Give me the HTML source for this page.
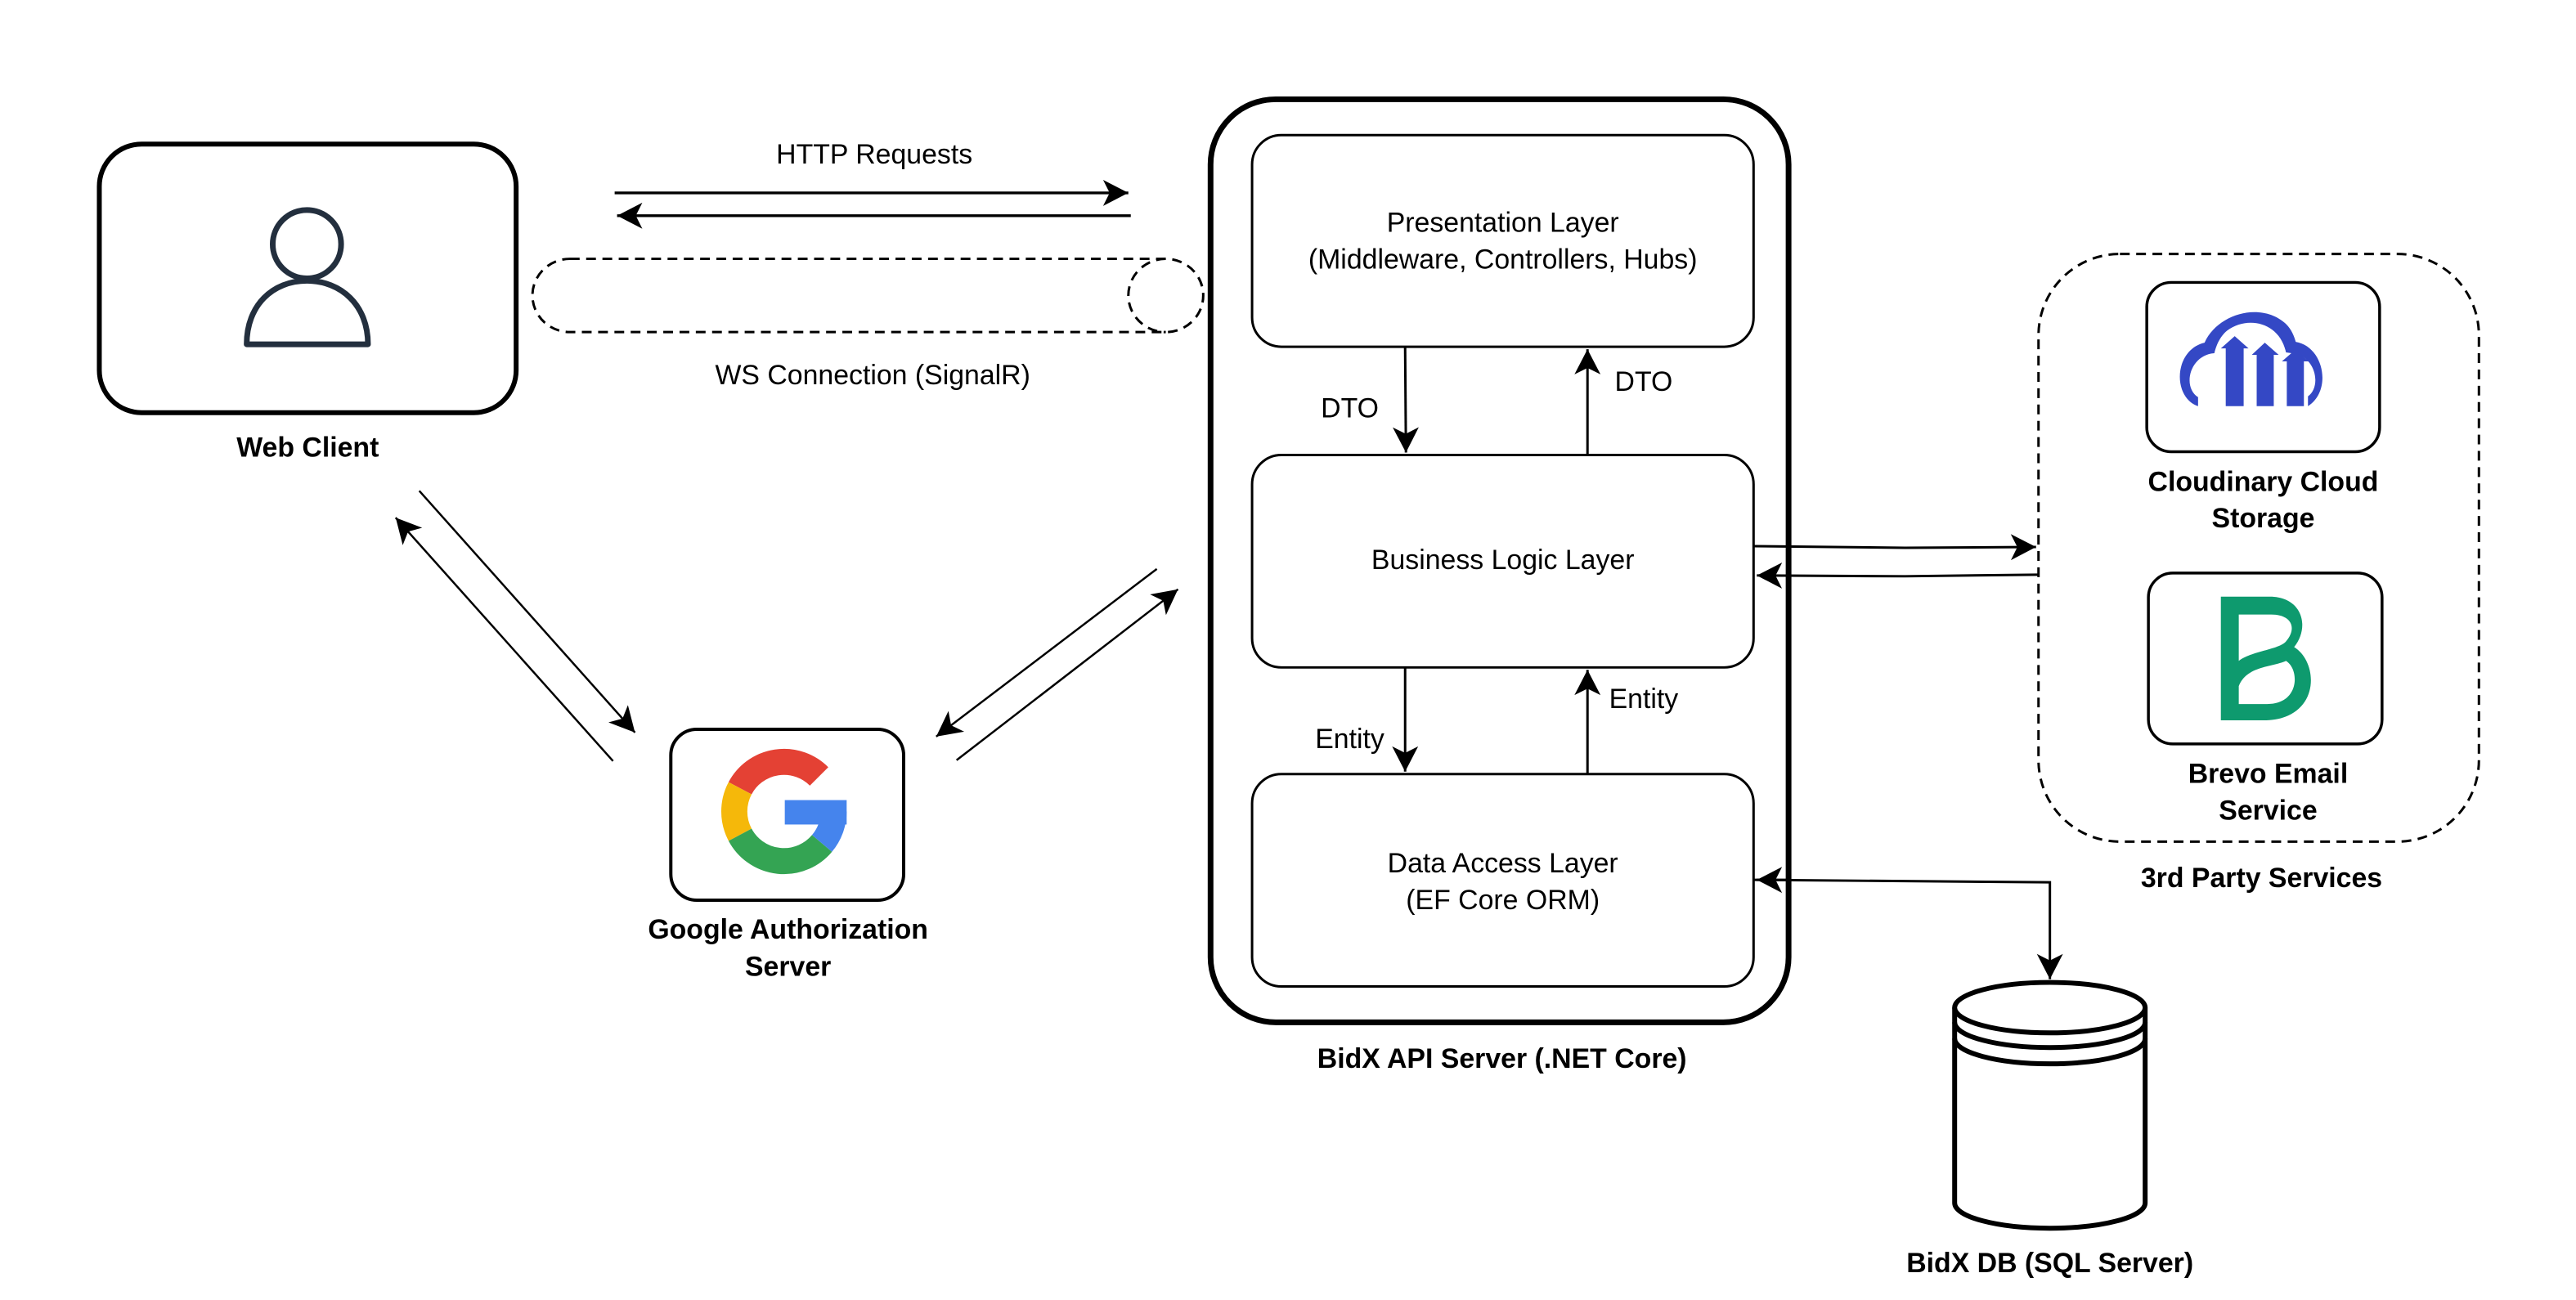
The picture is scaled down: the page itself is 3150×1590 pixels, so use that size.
<!DOCTYPE html>
<html><head><meta charset="utf-8"><style>
html,body{margin:0;padding:0;background:#fff}
svg{display:block}
text{font-family:"Liberation Sans",Arial,sans-serif;fill:#000}
.n{font-size:34px}
.b{font-size:34px;font-weight:bold}
</style></head><body>
<svg width="3150" height="1590" viewBox="0 0 3150 1590" xmlns="http://www.w3.org/2000/svg">
<defs>
<marker id="a" viewBox="0 0 10 10" refX="9" refY="5" markerWidth="10" markerHeight="10" markerUnits="userSpaceOnUse" orient="auto" overflow="visible">
<path d="M-22,-11 L9,5 L-22,21 L-14,5 Z" fill="#000"/>
</marker>
</defs>
<rect width="3150" height="1590" fill="#fff"/>
<g transform="scale(0.9955)">
<!-- Web client -->
<rect x="122" y="177" width="512" height="330" rx="52" fill="#fff" stroke="#000" stroke-width="6"/>
<circle cx="377" cy="300" r="42" fill="none" stroke="#232f3e" stroke-width="7"/>
<path d="M303,423 C303,375 335,345 377,345 C419,345 452,375 452,423 Z" fill="none" stroke="#232f3e" stroke-width="7" stroke-linejoin="round"/>
<text class="b" x="378" y="561" text-anchor="middle">Web Client</text>

<!-- HTTP -->
<text class="n" x="1074" y="201" text-anchor="middle">HTTP Requests</text>
<line x1="755" y1="237" x2="1386" y2="237" stroke="#000" stroke-width="3.5" marker-end="url(#a)"/>
<line x1="1389" y1="265" x2="758" y2="265" stroke="#000" stroke-width="3.5" marker-end="url(#a)"/>

<!-- WS cylinder -->
<path d="M700,318 L1432,318 A46,45 0 0 1 1432,408 L700,408 A46,45 0 0 1 700,318 Z" fill="none" stroke="#000" stroke-width="3" stroke-dasharray="12,8"/>
<path d="M1432,318 A46,45 0 0 0 1432,408" fill="none" stroke="#000" stroke-width="3" stroke-dasharray="12,8"/>
<text class="n" x="1072" y="472" text-anchor="middle">WS Connection (SignalR)</text>

<!-- diagonals left -->
<line x1="515" y1="603" x2="780" y2="900" stroke="#000" stroke-width="2.5" marker-end="url(#a)"/>
<line x1="753" y1="935" x2="486" y2="636" stroke="#000" stroke-width="2.5" marker-end="url(#a)"/>
<!-- diagonals right -->
<line x1="1421" y1="699" x2="1150" y2="905" stroke="#000" stroke-width="2.5" marker-end="url(#a)"/>
<line x1="1175" y1="934" x2="1447" y2="724" stroke="#000" stroke-width="2.5" marker-end="url(#a)"/>

<!-- Google -->
<rect x="824" y="896" width="286" height="210" rx="32" fill="#fff" stroke="#000" stroke-width="4"/>
<g fill="none" stroke-width="32">
<path d="M1006.1,953.9 A61,61 0 0 0 909.1,968.4" stroke="#e44134"/>
<path d="M909.1,968.4 A61,61 0 0 0 909.1,1025.6" stroke="#f5b80a"/>
<path d="M909.1,1025.6 A61,61 0 0 0 1009.7,1036.2" stroke="#34a453"/>
<path d="M1009.7,1036.2 A61,61 0 0 0 1024,997" stroke="#4584ed"/>
</g>
<rect x="964" y="983" width="76" height="30" fill="#4584ed"/>
<text class="b" x="968" y="1153" text-anchor="middle">Google Authorization</text>
<text class="b" x="968" y="1199" text-anchor="middle">Server</text>

<!-- API server -->
<rect x="1487" y="122" width="710" height="1134" rx="80" fill="none" stroke="#000" stroke-width="7"/>
<rect x="1538" y="166" width="616" height="260" rx="36" fill="#fff" stroke="#000" stroke-width="3"/>
<text class="n" x="1846" y="285" text-anchor="middle">Presentation Layer</text>
<text class="n" x="1846" y="330" text-anchor="middle">(Middleware, Controllers, Hubs)</text>
<rect x="1538" y="559" width="616" height="261" rx="36" fill="#fff" stroke="#000" stroke-width="3"/>
<text class="n" x="1846" y="699" text-anchor="middle">Business Logic Layer</text>
<rect x="1538" y="951" width="616" height="261" rx="36" fill="#fff" stroke="#000" stroke-width="3"/>
<text class="n" x="1846" y="1072" text-anchor="middle">Data Access Layer</text>
<text class="n" x="1846" y="1117" text-anchor="middle">(EF Core ORM)</text>
<text class="b" x="1845" y="1312" text-anchor="middle">BidX API Server (.NET Core)</text>

<line x1="1726" y1="427" x2="1727" y2="556" stroke="#000" stroke-width="3" marker-end="url(#a)"/>
<line x1="1950" y1="558" x2="1950" y2="429" stroke="#000" stroke-width="3" marker-end="url(#a)"/>
<text class="n" x="1658" y="513" text-anchor="middle">DTO</text>
<text class="n" x="2019" y="480" text-anchor="middle">DTO</text>
<line x1="1726" y1="821" x2="1726" y2="948" stroke="#000" stroke-width="3" marker-end="url(#a)"/>
<line x1="1950" y1="950" x2="1950" y2="823" stroke="#000" stroke-width="3" marker-end="url(#a)"/>
<text class="n" x="1658" y="919" text-anchor="middle">Entity</text>
<text class="n" x="2019" y="870" text-anchor="middle">Entity</text>

<!-- 3rd party -->
<rect x="2504" y="312" width="541" height="722" rx="100" fill="none" stroke="#000" stroke-width="3" stroke-dasharray="12,8"/>
<rect x="2637" y="347" width="286" height="208" rx="30" fill="#fff" stroke="#000" stroke-width="3.5"/>
<g fill="#3448c5">
<path d="M2700,499 C2668,488 2670,430 2708,421 C2724,385 2778,370 2808,398 C2815,405 2818,413 2820,420 C2855,426 2865,480 2835,499 L2835,487 C2852,475 2845,437 2815,434 L2808,433 C2800,395 2760,388 2736,406 C2726,414 2722,426 2720,434 C2690,436 2680,475 2700,488 Z"/>
<path d="M2728,428 L2745,413 L2762,428 L2756,428 L2756,499 L2734,499 L2734,428 Z"/>
<path d="M2766,436 L2782,421 L2799,436 L2793,436 L2793,499 L2772,499 L2772,436 Z"/>
<path d="M2803,444 L2819,430 L2836,444 L2830,444 L2830,499 L2809,499 L2809,444 Z"/>
</g>
<text class="b" x="2780" y="603" text-anchor="middle">Cloudinary Cloud</text>
<text class="b" x="2780" y="648" text-anchor="middle">Storage</text>
<rect x="2639" y="704" width="287" height="210" rx="30" fill="#fff" stroke="#000" stroke-width="3.5"/>
<path d="M2728,733 L2788,733 C2828,733 2838,770 2818,795 C2850,815 2850,885 2780,885 L2728,885 Z M2750,755 L2750,812 C2765,800 2800,798 2808,788 C2822,772 2815,755 2790,755 Z M2750,843 L2750,865 L2785,865 C2825,865 2825,822 2808,812 C2790,820 2760,818 2750,843 Z" fill="#0e9a6e" fill-rule="evenodd"/>
<text class="b" x="2786" y="962" text-anchor="middle">Brevo Email</text>
<text class="b" x="2786" y="1007" text-anchor="middle">Service</text>
<text class="b" x="2778" y="1090" text-anchor="middle">3rd Party Services</text>

<path d="M2155,671 L2340,673 L2501,672" fill="none" stroke="#000" stroke-width="3" marker-end="url(#a)"/>
<path d="M2504,706 L2340,708 L2158,707" fill="none" stroke="#000" stroke-width="3" marker-end="url(#a)"/>

<!-- DB -->
<path d="M2155,1081 L2518,1084 L2518,1203" fill="none" stroke="#000" stroke-width="3" marker-end="url(#a)"/>
<line x1="2200" y1="1081" x2="2158" y2="1081" stroke="#000" stroke-width="3" marker-end="url(#a)"/>
<path d="M2401,1238 L2401,1478 A117,31 0 0 0 2635,1478 L2635,1238" fill="#fff" stroke="#000" stroke-width="6"/>
<ellipse cx="2518" cy="1238" rx="117" ry="31" fill="#fff" stroke="#000" stroke-width="6"/>
<path d="M2401,1256 A117,31 0 0 0 2635,1256" fill="none" stroke="#000" stroke-width="6"/>
<path d="M2401,1276 A117,31 0 0 0 2635,1276" fill="none" stroke="#000" stroke-width="6"/>
<text class="b" x="2518" y="1563" text-anchor="middle">BidX DB (SQL Server)</text>
</g>
</svg>
</body></html>
